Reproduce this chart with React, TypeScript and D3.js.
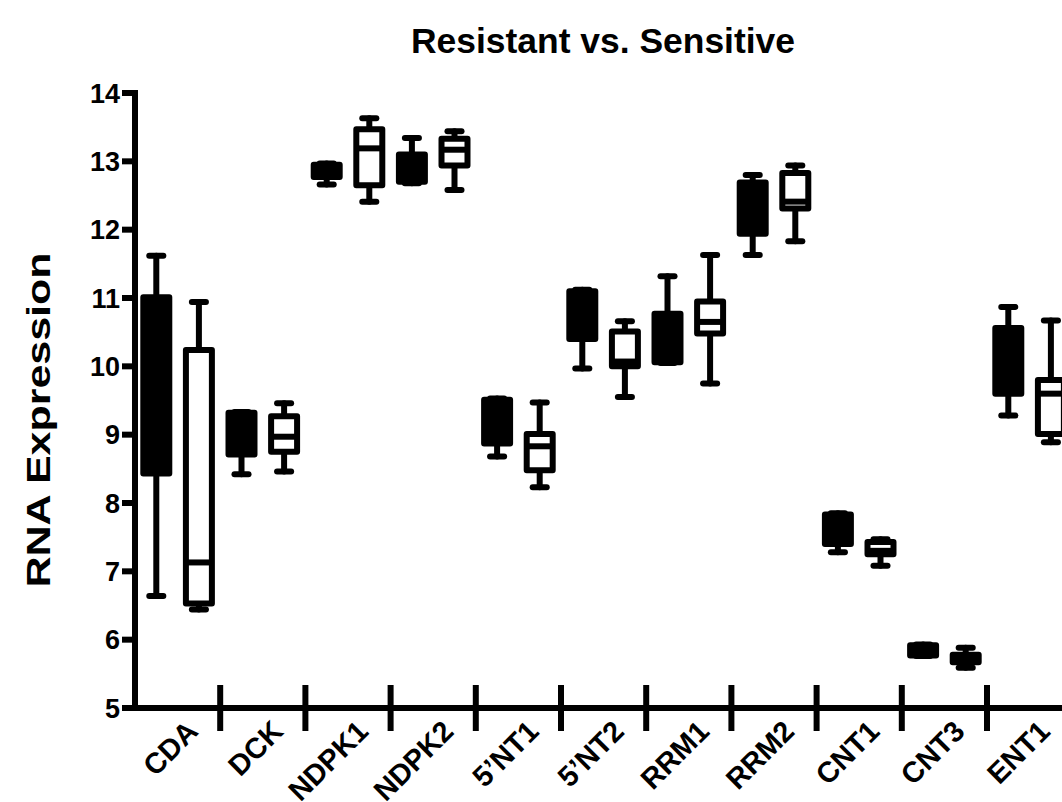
import React from "react";
import * as d3 from "d3";

// Gene categories along the x axis
const genes = ["CDA", "DCK", "NDPK1", "NDPK2", "5’NT1", "5’NT2", "RRM1", "RRM2", "CNT1", "CNT3", "ENT1"];

// Resistant group (filled boxes): whisker low, Q1, median, Q3, whisker high
const resistantMin = [6.64, 8.42, 12.66, 12.68, 8.68, 9.97, 10.05, 11.63, 7.28, 5.76, 9.28];
const resistantQ1 = [8.43, 8.71, 12.77, 12.7, 8.87, 10.4, 10.06, 11.94, 7.4, 5.77, 9.6];
const resistantMedian = [10.3, 9.0, 12.85, 12.8, 9.25, 10.5, 10.15, 12.3, 7.6, 5.82, 10.0];
const resistantQ3 = [11.01, 9.32, 12.95, 13.1, 9.51, 11.1, 10.77, 12.69, 7.83, 5.92, 10.56];
const resistantMax = [11.62, 9.33, 12.97, 13.34, 9.53, 11.12, 11.32, 12.8, 7.85, 5.93, 10.87];

// Sensitive group (open boxes)
const sensitiveMin = [6.44, 8.46, 12.41, 12.58, 8.23, 9.55, 9.75, 11.83, 7.08, 5.59, 8.89];
const sensitiveQ1 = [6.53, 8.75, 12.65, 12.94, 8.48, 10.0, 10.48, 12.31, 7.25, 5.67, 9.01];
const sensitiveMedian = [7.13, 8.97, 13.19, 13.17, 8.83, 10.07, 10.65, 12.41, 7.3, 5.72, 9.6];
const sensitiveQ3 = [10.24, 9.27, 13.47, 13.33, 9.01, 10.51, 10.95, 12.83, 7.43, 5.78, 9.8];
const sensitiveMax = [10.94, 9.46, 13.63, 13.44, 9.47, 10.66, 11.63, 12.94, 7.47, 5.88, 10.67];

const yTicks = [5, 6, 7, 8, 9, 10, 11, 12, 13, 14];

const W = 1062;
const H = 802;
const left = 135;
const bandW = 85.2;
const FONT = "'Liberation Sans', Arial, Helvetica, sans-serif";
const SW = 6;

type Stats = { min: number; q1: number; med: number; q3: number; max: number };

function makeStats(mn: number[], a: number[], m: number[], b: number[], mx: number[]): Stats[] {
  return mn.map((v, i) => ({ min: v, q1: a[i], med: m[i], q3: b[i], max: mx[i] }));
}

const resistant = makeStats(resistantMin, resistantQ1, resistantMedian, resistantQ3, resistantMax);
const sensitive = makeStats(sensitiveMin, sensitiveQ1, sensitiveMedian, sensitiveQ3, sensitiveMax);

export default function App() {
  const x = d3.scaleBand<string>().domain(genes).range([left, left + bandW * genes.length]).padding(0);
  const y = d3.scaleLinear().domain([5, 14]).range([708, 93]);
  const bw = x.bandwidth();
  const boxW = bw * 0.305;
  const capW = bw * 0.165;

  const drawBox = (s: Stats, cx: number, filled: boolean, key: string) => {
    const top = y(s.q3);
    const bot = y(s.q1);
    return (
      <g key={key} stroke="#000" strokeWidth={SW} strokeLinecap="round" strokeLinejoin="round">
        {/* whiskers */}
        <line x1={cx} x2={cx} y1={y(s.max)} y2={top} />
        <line x1={cx} x2={cx} y1={bot} y2={y(s.min)} />
        <line x1={cx - capW / 2} x2={cx + capW / 2} y1={y(s.max)} y2={y(s.max)} />
        <line x1={cx - capW / 2} x2={cx + capW / 2} y1={y(s.min)} y2={y(s.min)} />
        {/* interquartile box */}
        <rect x={cx - boxW / 2} y={top} width={boxW} height={Math.max(bot - top, 0.5)} fill={filled ? "#000" : "#fff"} />
        {/* median */}
        <line x1={cx - boxW / 2} x2={cx + boxW / 2 + (filled ? 2 : 0)} y1={y(s.med)} y2={y(s.med)} strokeLinecap="butt" />
      </g>
    );
  };

  return (
    <svg width={W} height={H} style={{ position: "absolute", left: 0, top: 0, background: "#fff" }}>
      <rect x={0} y={0} width={W} height={H} fill="#fff" />
      <text
        x={603}
        y={53}
        textAnchor="middle"
        fontFamily={FONT}
        fontWeight="bold"
        fontSize={35}
        textLength={384}
        lengthAdjust="spacingAndGlyphs"
      >
        Resistant vs. Sensitive
      </text>
      <text
        transform={`translate(50, 420) rotate(-90)`}
        textAnchor="middle"
        fontFamily={FONT}
        fontWeight="bold"
        fontSize={34}
        textLength={335}
        lengthAdjust="spacingAndGlyphs"
      >
        RNA Expression
      </text>

      {/* y axis */}
      <g stroke="#000" strokeWidth={SW}>
        <line x1={left} x2={left} y1={y(14) - SW / 2} y2={y(5)} />
        {yTicks.map((t) => (
          <line key={t} x1={left - 13} x2={left} y1={y(t)} y2={y(t)} />
        ))}
      </g>
      {yTicks.map((t) => (
        <text
          key={"l" + t}
          x={left - 15}
          y={y(t)}
          dy="0.36em"
          textAnchor="end"
          fontFamily={FONT}
          fontWeight="bold"
          fontSize={27}
        >
          {t}
        </text>
      ))}

      {/* x axis with separators between categories */}
      <g stroke="#000" strokeWidth={SW}>
        <line x1={left - SW / 2} x2={W + 20} y1={y(5)} y2={y(5)} />
        {genes.slice(1).map((g) => (
          <line key={g} x1={x(g)!} x2={x(g)!} y1={y(5) - 23} y2={y(5) + 23} />
        ))}
      </g>
      {genes.map((g) => {
        const ax = x(g)! + bw / 2 + 22;
        const ay = y(5) + 25;
        return (
          <text
            key={"x" + g}
            transform={`translate(${ax}, ${ay}) rotate(-45)`}
            textAnchor="end"
            fontFamily={FONT}
            fontWeight="bold"
            fontSize={29}
          >
            {g}
          </text>
        );
      })}

      {/* boxes */}
      {genes.map((g, i) => drawBox(resistant[i], x(g)! + bw * 0.25, true, "r" + g))}
      {genes.map((g, i) => drawBox(sensitive[i], x(g)! + bw * 0.75, false, "s" + g))}
    </svg>
  );
}
